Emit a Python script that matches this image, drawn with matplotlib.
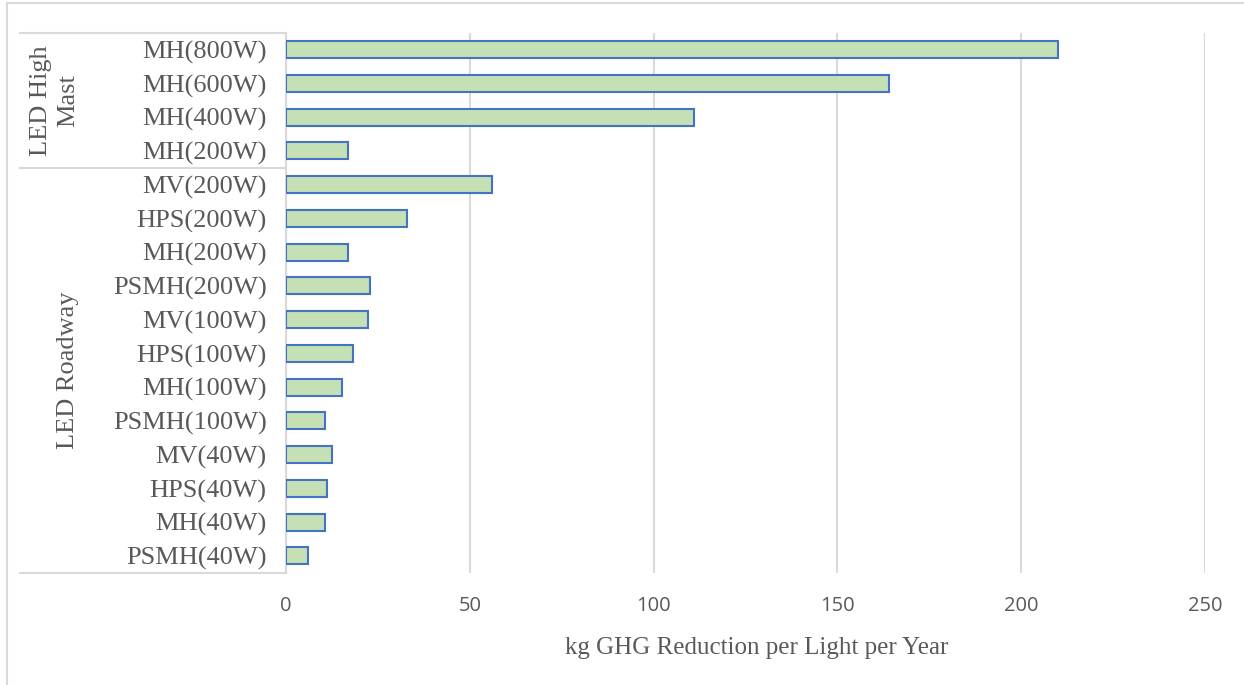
import numpy as np
import matplotlib
matplotlib.use("Agg")
import matplotlib.pyplot as plt
from matplotlib.lines import Line2D
from matplotlib.transforms import blended_transform_factory

# Lamp types replaced by LED fixtures, listed top to bottom
high_mast_labels = ["MH(800W)", "MH(600W)", "MH(400W)", "MH(200W)"]
high_mast_values = [210, 164, 111, 17]

roadway_labels = ["MV(200W)", "HPS(200W)", "MH(200W)", "PSMH(200W)",
                  "MV(100W)", "HPS(100W)", "MH(100W)", "PSMH(100W)",
                  "MV(40W)", "HPS(40W)", "MH(40W)", "PSMH(40W)"]
roadway_values = [56, 33, 17, 22.8, 22.2, 18.2, 15.2, 10.6, 12.5, 11.1, 10.5, 6]

group_names = ["LED High\nMast", "LED Roadway"]
x_ticks = [0, 50, 100, 150, 200, 250]
x_title = "kg GHG Reduction per Light per Year"

labels = high_mast_labels + roadway_labels
values = high_mast_values + roadway_values
n = len(labels)
pos = np.arange(n)

TEXT = "#595959"
GRID = "#d9d9d9"
SERIF = ["Liberation Serif", "DejaVu Serif"]
SANS = ["Open Sans", "DejaVu Sans"]

W, H = 1244, 685
fig = plt.figure(figsize=(W / 100, H / 100), dpi=100)
fig.patch.set_facecolor("white")

left, right, top, bottom = 286, 1205, 32.7, 572.7
ax = fig.add_axes([left / W, 1 - bottom / H, (right - left) / W, (bottom - top) / H])

ax.barh(pos, values, height=0.5, color="#c5e0b4", edgecolor="#4472c4",
        linewidth=1.5, zorder=3)

ax.set_xlim(0, 250)
ax.set_ylim(n - 0.5, -0.5)
ax.set_xticks(x_ticks)
ax.set_xticklabels([str(t) for t in x_ticks], family=SANS, fontsize=14.5, color=TEXT)
ax.tick_params(axis="x", length=0, pad=17)
ax.set_yticks(pos)
ax.set_yticklabels(labels, family=SERIF, fontsize=19, color=TEXT)
ax.tick_params(axis="y", length=0, pad=14)
ax.grid(axis="x", color=GRID, linewidth=1.5, zorder=0)
for s in ["top", "right", "bottom"]:
    ax.spines[s].set_visible(False)
ax.spines["left"].set_color(GRID)
ax.spines["left"].set_linewidth(1.5)

ax.set_xlabel(x_title, family=SERIF, fontsize=18, color=TEXT, labelpad=15)
ax.xaxis.label.set_x(0.512)

# Category box lines: x in figure fraction, y in data units
tr = blended_transform_factory(fig.transFigure, ax.transData)
box_x0, box_x1 = 20 / W, left / W
split = len(high_mast_labels) - 0.5
for yv in [-0.5, split, n - 0.5]:
    fig.add_artist(Line2D([box_x0, box_x1], [yv, yv], transform=tr,
                          color=GRID, linewidth=1.5))

# Group labels, rotated
fig.text(55 / W, (len(high_mast_labels) - 1) / 2, group_names[0], transform=tr,
         rotation=90, ha="center", va="center", family=SERIF, fontsize=19,
         color=TEXT, linespacing=1.3, multialignment="center")
fig.text(68 / W, len(high_mast_labels) + (len(roadway_labels) - 1) / 2,
         group_names[1], transform=tr, rotation=90, ha="center", va="center",
         family=SERIF, fontsize=19, color=TEXT)

# Outer chart frame
fig.add_artist(Line2D([7 / W, 1], [1 - 3 / H, 1 - 3 / H], transform=fig.transFigure,
                      color=GRID, linewidth=1.5))
fig.add_artist(Line2D([7 / W, 7 / W], [0, 1 - 3 / H], transform=fig.transFigure,
                      color=GRID, linewidth=1.5))

fig.savefig("out.png", dpi=100, facecolor="white")
